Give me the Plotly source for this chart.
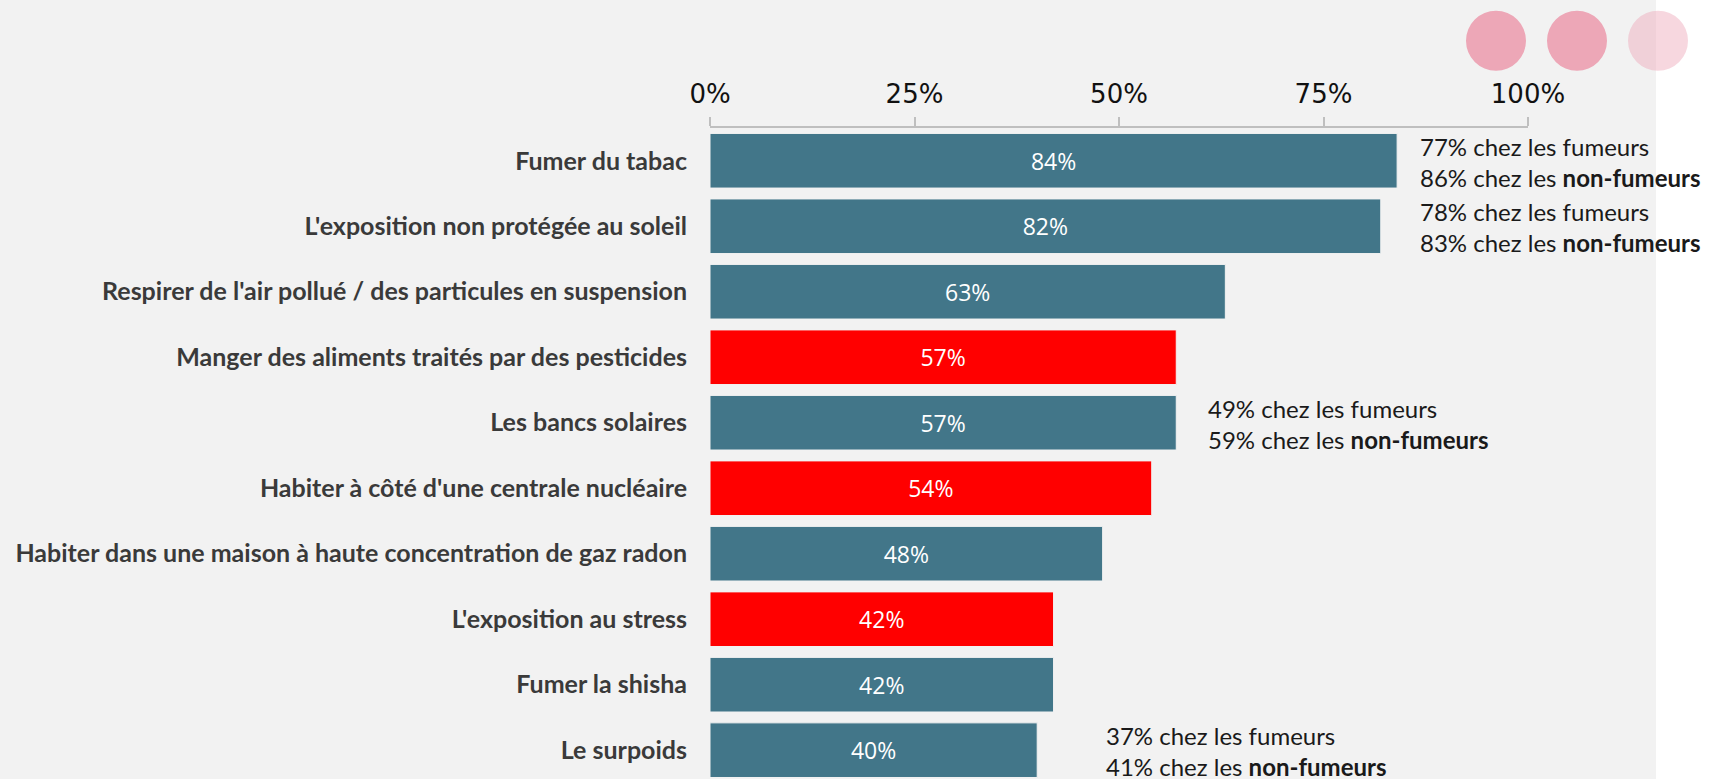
import plotly.graph_objects as go

categories = [
    "Fumer du tabac",
    "L'exposition non protégée au soleil",
    "Respirer de l'air pollué / des particules en suspension",
    "Manger des aliments traités par des pesticides",
    "Les bancs solaires",
    "Habiter à côté d'une centrale nucléaire",
    "Habiter dans une maison à haute concentration de gaz radon",
    "L'exposition au stress",
    "Fumer la shisha",
    "Le surpoids",
]
values = [84, 82, 63, 57, 57, 54, 48, 42, 42, 40]
highlighted = [False, False, False, True, False, True, False, True, False, False]

split_categories = ["Fumer du tabac", "L'exposition non protégée au soleil", "Les bancs solaires", "Le surpoids"]
smokers = [77, 78, 49, 37]
non_smokers = [86, 83, 59, 41]
split_label_x = [86.5, 86.5, 60.6, 48.2]

x_ticks = [0, 25, 50, 75, 100]
x_tick_labels = ["0%", "25%", "50%", "75%", "100%"]

TEAL = "#427689"
RED = "#FF0000"
colors = [RED if h else TEAL for h in highlighted]

fig = go.Figure(go.Bar(
    x=values, y=categories, orientation="h",
    marker=dict(color=colors, line=dict(color="#F2F2F2", width=1)),
    text=[f"{v}%" for v in values], textposition="inside",
    insidetextanchor="middle",
    textfont=dict(family="Open Sans", size=23, color="white"),
    hoverinfo="skip", width=0.834,
))

annotations = []
for cat, s, ns, xpos in zip(split_categories, smokers, non_smokers, split_label_x):
    annotations.append(dict(
        x=xpos, y=cat, xref="x", yref="y", xanchor="left", yanchor="middle",
        align="left", showarrow=False, yshift=-1,
        text=f"{s}% chez les fumeurs<br>{ns}% chez les <b>non-fumeurs</b>",
        font=dict(family="Lato", size=24, color="#1a1a1a"),
    ))

shapes = [dict(type="rect", xref="paper", yref="paper", x0=-0.868, x1=1.1565, y0=-0.2, y1=1.3,
               fillcolor="#F2F2F2", line=dict(width=0), layer="below")]
for cx, op in [(1496, 1.0), (1577, 1.0), (1658, 0.45)]:
    px = (cx - 710) / 818
    py = (779 - 40.7) / 651
    shapes.append(dict(type="circle", xref="paper", yref="paper", xsizemode="pixel", ysizemode="pixel",
                       xanchor=px, yanchor=py, x0=-30, x1=30, y0=-30, y1=30,
                       fillcolor="#EDA7B7", opacity=op, line=dict(width=0), layer="below"))

fig.update_layout(
    width=1712, height=779,
    margin=dict(l=710, r=184, t=128, b=0, pad=0),
    paper_bgcolor="white", plot_bgcolor="rgba(0,0,0,0)",
    showlegend=False, bargap=0.166,
    shapes=shapes, annotations=annotations,
    xaxis=dict(side="top", range=[0, 100], tickvals=x_ticks, ticktext=x_tick_labels,
               showgrid=False, zeroline=False, showline=True, linecolor="#BFBFBF", linewidth=2,
               ticks="outside", ticklen=9, tickcolor="#BFBFBF", tickwidth=2,
               tickfont=dict(family="DejaVu Sans", size=26, color="#111111"),
               ticklabelstandoff=4),
    yaxis=dict(type="category", range=[9.44, -0.5], showgrid=False, zeroline=False, showline=False,
               ticks="", tickfont=dict(family="Lato", size=25, color="#3a3a3a", weight="bold"),
               ticklabelstandoff=22),
)

fig.write_html("out.html", config={"displayModeBar": False},
               post_script="document.body.style.margin='0';document.body.style.overflow='hidden';")
